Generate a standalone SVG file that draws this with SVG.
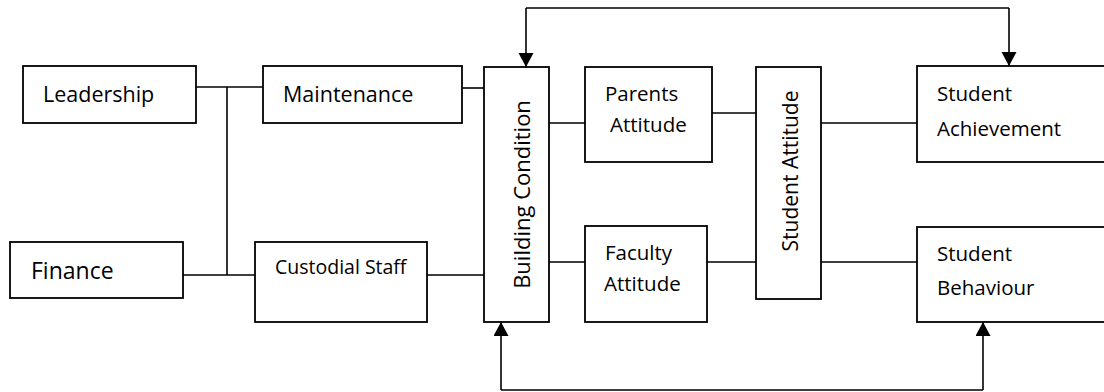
<svg xmlns="http://www.w3.org/2000/svg" width="1104" height="392" viewBox="0 0 1104 392">
<defs>
<marker id="arr" markerUnits="userSpaceOnUse" markerWidth="16" markerHeight="16" refX="14" refY="7.5" orient="auto">
<path d="M0,0 L14,7.5 L0,15 Z" fill="#000"/>
</marker>
<style>
.box{fill:#fff;stroke:#000;stroke-width:1.8}
.ln{fill:none;stroke:#000;stroke-width:1.6}
text{font-family:"Open Sans","Noto Sans","Liberation Sans",sans-serif;font-size:20.5px;fill:#000}
</style>
</defs>
<rect width="1104" height="392" fill="#fff"/>
<g id="connectors">
<path class="ln" d="M196,87 H263"/>
<path class="ln" d="M227,87 V275"/>
<path class="ln" d="M183,275 H255"/>
<path class="ln" d="M462,88 H484"/>
<path class="ln" d="M427,275 H484"/>
<path class="ln" d="M549,123 H585"/>
<path class="ln" d="M549,262 H585"/>
<path class="ln" d="M709,113 H756"/>
<path class="ln" d="M707,262 H756"/>
<path class="ln" d="M821,123 H917"/>
<path class="ln" d="M821,262 H917"/>
<path class="ln" d="M526,8 H1009"/>
<path class="ln" d="M526,8 V67" marker-end="url(#arr)"/>
<path class="ln" d="M1009,8 V66" marker-end="url(#arr)"/>
<path class="ln" d="M501,390 H983"/>
<path class="ln" d="M501,390 V322" marker-end="url(#arr)"/>
<path class="ln" d="M983,390 V322" marker-end="url(#arr)"/>
</g>
<g id="leadership"><rect class="box" x="23" y="66" width="173" height="57"/><text x="43" y="102" style="font-size:21.5px">Leadership</text></g>
<g id="maintenance"><rect class="box" x="263" y="66" width="199" height="57"/><text x="283" y="102" style="font-size:21.5px">Maintenance</text></g>
<g id="finance"><rect class="box" x="10" y="242" width="173" height="56"/><text x="31" y="279" style="font-size:23px">Finance</text></g>
<g id="custodial"><rect class="box" x="255" y="242" width="172" height="80"/><text x="275" y="274" style="font-size:19.5px">Custodial Staff</text></g>
<g id="building"><rect class="box" x="484" y="67" width="65" height="255"/><text transform="translate(530,194.5) rotate(-90)" text-anchor="middle" style="font-size:22px">Building Condition</text></g>
<g id="parents"><rect class="box" x="585" y="67" width="127" height="95"/><text x="605" y="101">Parents</text><text x="610" y="132">Attitude</text></g>
<g id="faculty"><rect class="box" x="585" y="226" width="122" height="96"/><text x="605" y="260">Faculty</text><text x="604" y="291">Attitude</text></g>
<g id="studentattitude"><rect class="box" x="756" y="67" width="65" height="232"/><text transform="translate(798,171) rotate(-90)" text-anchor="middle" style="font-size:21px">Student Attitude</text></g>
<g id="achievement"><rect class="box" x="917" y="66" width="200" height="96"/><text x="937" y="101">Student</text><text x="937" y="136">Achievement</text></g>
<g id="behaviour"><rect class="box" x="917" y="227" width="200" height="95"/><text x="937" y="261">Student</text><text x="937" y="295">Behaviour</text></g>
</svg>
